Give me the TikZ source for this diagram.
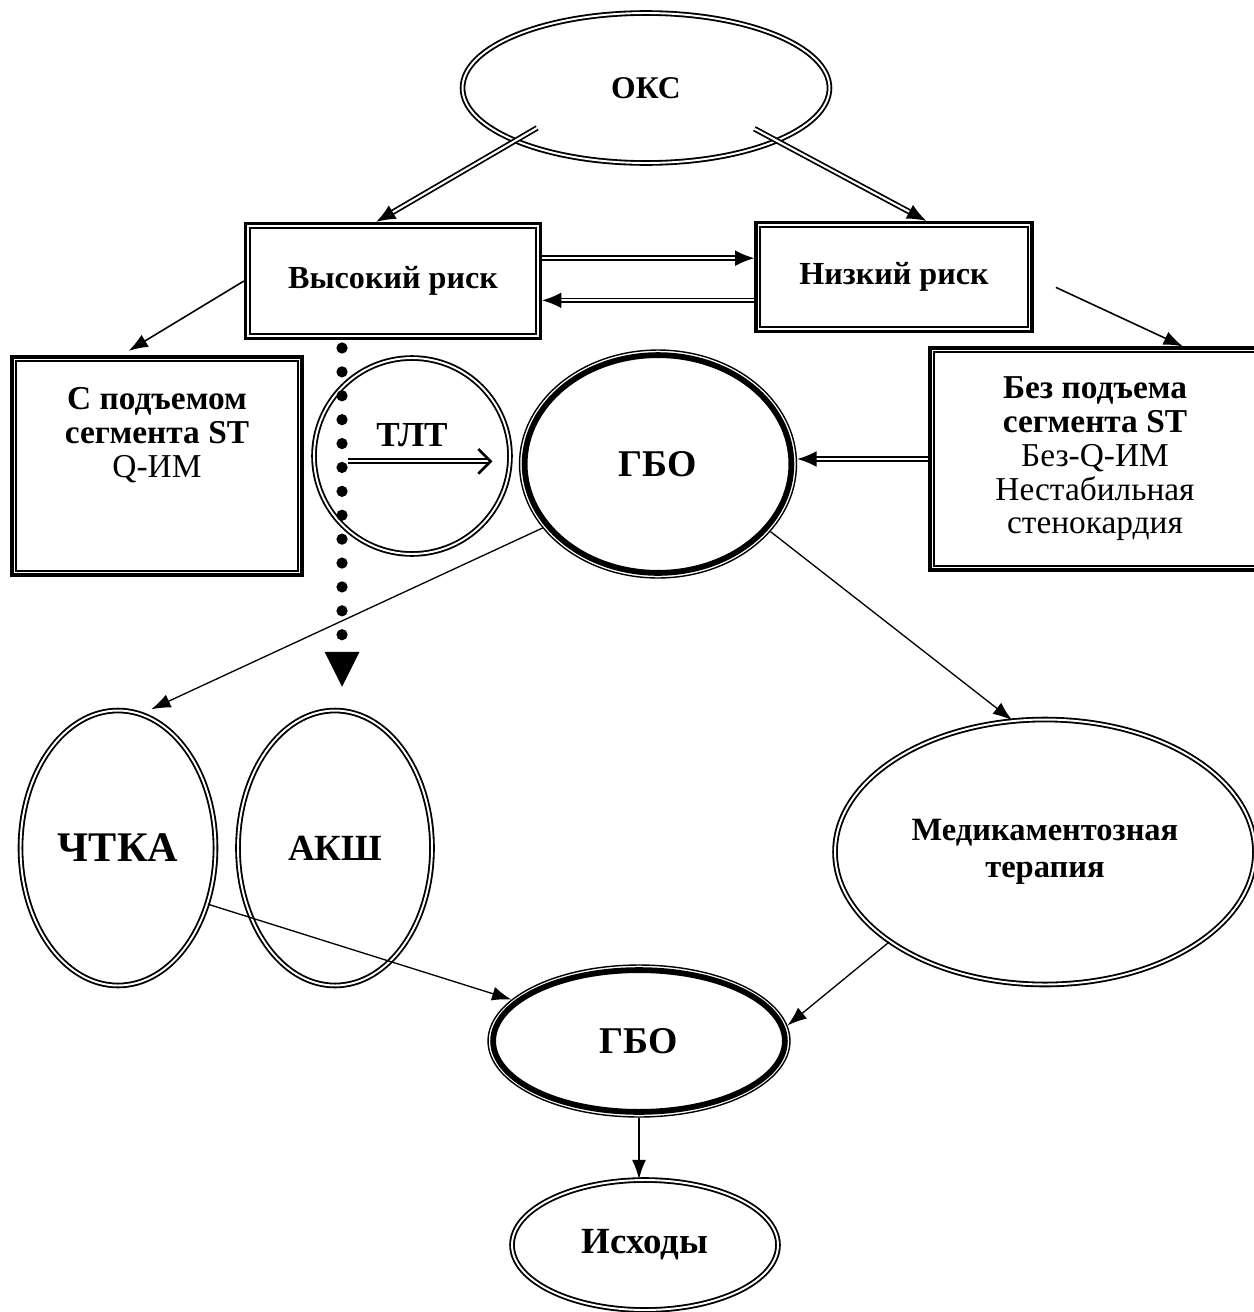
\documentclass[tikz,border=0pt]{standalone}
\usepackage{fontspec}
\setmainfont{Liberation Serif}
\usetikzlibrary{arrows.meta,shapes.geometric,calc}
\newcommand{\innerframe}[1]{\draw[line width=0.9pt] ([shift={(3.3pt,3.3pt)}]#1.south west) rectangle ([shift={(-3.3pt,-3.3pt)}]#1.north east);}

\begin{document}
\begin{tikzpicture}[x=0.02cm, y=-0.02cm, >=Latex, every node/.style={align=center},
    oval/.style={ellipse, draw, double, line width=1.05pt, double distance=1.1pt, inner sep=0pt, font=\bfseries\fontsize{21}{24}\selectfont},
    hbo/.style={ellipse, draw, line width=0.8pt, inner sep=0pt, font=\bfseries\fontsize{21.5}{24}\selectfont},
    riskbox/.style={draw, line width=1.8pt, inner sep=0pt, font=\bfseries\fontsize{18.3}{19}\selectfont},
    formbox/.style={riskbox, font=\bfseries\fontsize{19}{19.2}\selectfont},
    thinarr/.style={-{Latex[length=11pt,width=8pt]}, line width=0.75pt},
    dblarr/.style={double, line width=1pt, double distance=1.2pt, -{Latex[length=11pt,width=9pt]}},
    tltarr/.style={double, line width=1pt, double distance=1.3pt, -{Straight Barb[length=7pt,width=14pt,line width=1.5pt]}},
    dotarr/.style={line width=6.4pt, line cap=round, dash pattern=on 0pt off 13.6pt, -{Triangle[length=19.8pt,width=19.8pt,line width=0pt]}}]
  \useasboundingbox (0,0) rectangle (1254,1312);

  % top level
  \node[oval, minimum width=7.34cm, minimum height=3cm, font=\bfseries\fontsize{18}{20}\selectfont] (oks) at (646,88) {ОКС};
  \node[riskbox, minimum width=5.9cm, minimum height=2.3cm] (vysokiy) at (393,281) {Высокий риск};
  \node[riskbox, minimum width=5.52cm, minimum height=2.18cm] (nizkiy) at (894,277) {Низкий риск};
  \innerframe{vysokiy}
  \innerframe{nizkiy}

  % forms of ACS
  \node[formbox, minimum width=5.8cm, minimum height=4.36cm] (spodem) at (157,466)
    {С подъемом\\сегмента ST\\{\mdseries Q-ИМ}\\\mbox{}\\\mbox{}};
  \node[formbox, minimum width=6.6cm, minimum height=4.44cm] (bezpod) at (1095,459)
    {Без подъема\\сегмента ST\\{\mdseries Без-Q-ИМ}\\{\mdseries Нестабильная}\\{\mdseries стенокардия}};
  \innerframe{spodem}
  \innerframe{bezpod}

  \node[oval, minimum width=3.92cm, minimum height=3.92cm, font=\bfseries\fontsize{20}{24}\selectfont] (tlt) at (412,456) {ТЛТ\\\mbox{}};
  \node[hbo, minimum width=5.54cm, minimum height=4.56cm] (gbo1) at (658,464) {ГБО};
  \draw[line width=3.3pt] (gbo1.center) ellipse [x radius={2.77cm-2.9pt}, y radius={2.28cm-2.9pt}];

  % treatment
  \node[oval, minimum width=3.9cm, minimum height=5.5cm, font=\bfseries\fontsize{24}{26}\selectfont] (chtka) at (118,848) {ЧТКА};
  \node[oval, minimum width=3.88cm, minimum height=5.5cm] (aksh) at (335,848) {АКШ};
  \node[oval, minimum width=8.4cm, minimum height=5.3cm, font=\bfseries\fontsize{18.5}{21}\selectfont] (medter) at (1045,852)
    {Медикаментозная\\терапия};
  \node[hbo, minimum width=6.04cm, minimum height=3.04cm] (gbo2) at (639,1041) {ГБО};
  \draw[line width=3.3pt] (gbo2.center) ellipse [x radius={3.02cm-2.9pt}, y radius={1.52cm-2.9pt}];
  \node[oval, minimum width=5.32cm, minimum height=2.6cm] (ishody) at (645,1245) {Исходы};

  % connectors
  \draw[dblarr, shorten <=-15pt] (oks.202) -- (vysokiy.106);
  \draw[dblarr, shorten <=-15pt] (oks.338) -- (nizkiy.60);
  \draw[dblarr] ([yshift=13pt]vysokiy.east) -- ([yshift=13pt]vysokiy.east -| nizkiy.west);
  \draw[dblarr] ([yshift=-11pt]vysokiy.east -| nizkiy.west) -- ([yshift=-11pt]vysokiy.east);
  \draw[thinarr, line width=0.9pt, shorten >=5pt] (vysokiy.west) -- (spodem.108);
  \draw[thinarr, line width=0.9pt, shorten <=14pt] (nizkiy.east) -- (bezpod.52);
  \draw[dblarr] (bezpod.west) -- (bezpod.west -| gbo1.east);
  \draw[tltarr, shorten <=20pt, shorten >=15pt] ([yshift=-3pt]tlt.west) -- ([yshift=-3pt]tlt.west -| gbo1.west);
  \draw[dotarr] ($(aksh.north |- vysokiy.south)+(4pt,-4.5pt)$) -- ($(aksh.north)+(4pt,13pt)$);
  \draw[thinarr, shorten >=6pt] (gbo1.209) -- (chtka.80);
  \draw[thinarr] (gbo1.329) -- (medter.104);
  \draw[thinarr] (chtka.328) -- (gbo2.162);
  \draw[thinarr] (medter.210) -- (gbo2.6);
  \draw[thinarr] (gbo2.south) -- (gbo2.south |- ishody.north);
\end{tikzpicture}
\end{document}
